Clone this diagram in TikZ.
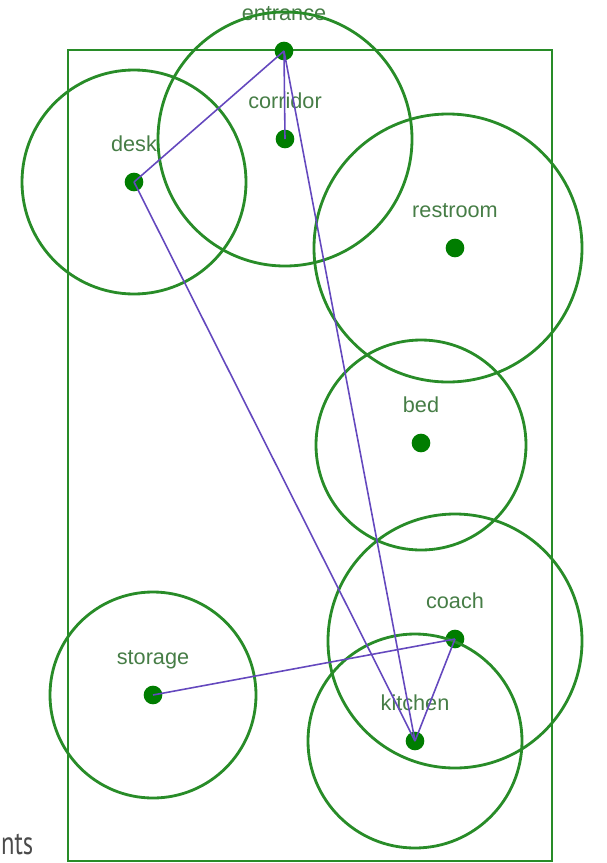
\documentclass[tikz,border=0pt]{standalone}
\usepackage{fontspec}
\setmainfont{Liberation Sans}
\newfontfamily\notefont{PT Sans}
\usepackage{tikz}
\usetikzlibrary{positioning}
\definecolor{zonegreen}{RGB}{40,140,40}
\definecolor{dotgreen}{RGB}{0,125,0}
\definecolor{lblgreen}{RGB}{70,125,70}
\definecolor{linkpurple}{RGB}{100,72,190}
\definecolor{notegray}{RGB}{75,75,75}

\begin{document}
\begin{tikzpicture}[x=0.03cm, y=-0.03cm,
  dot/.style={circle, fill=dotgreen, draw=none, minimum size=0.56cm, inner sep=0pt},
  lbl/.style={text=lblgreen, font=\fontsize{18.5}{21}\selectfont, inner sep=0pt,
    text depth=0pt, label distance=0.62cm},
  room/.style={dot, label={[lbl]above:#1}},
  zone/.style={draw=zonegreen, line width=2.4pt},
  link/.style={draw=linkpurple, line width=1.35pt}]

  \useasboundingbox (0,0) rectangle (606,863);

  % Floor outline
  \draw[draw=zonegreen, line width=2pt] (68,50) rectangle (552,861);

  % Rooms
  \node[room=entrance] (entrance) at (284,51)  {};
  \node[room=corridor] (corridor) at (285,139) {};
  \node[room=desk]     (desk)     at (134,182) {};
  \node[room=restroom] (restroom) at (455,248) {};
  \node[room=bed]      (bed)      at (421,443) {};
  \node[room=coach]    (coach)    at (455,639) {};
  \node[room=kitchen]  (kitchen)  at (415,741) {};
  \node[room=storage]  (storage)  at (153,695) {};

  % Ranges
  \draw[zone] (corridor) circle[radius=127];
  \draw[zone] (desk)     circle[radius=112];
  \draw[zone] (restroom) ++(-7,0) circle[radius=134];
  \draw[zone] (bed)      ++(0,2) circle[radius=105];
  \draw[zone] (coach)    ++(0,2) circle[radius=127];
  \draw[zone] (kitchen)  circle[radius=107];
  \draw[zone] (storage)  circle[radius=103];

  % Links
  \draw[link] (entrance.center) -- (desk.center);
  \draw[link] (entrance.center) -- (corridor.center);
  \draw[link] (entrance.center) -- (kitchen.center);
  \draw[link] (desk.center)     -- (kitchen.center);
  \draw[link] (storage.center)  -- (coach.center);
  \draw[link] (coach.center)    -- (kitchen.center);

  \node[text=notegray, font=\notefont\fontsize{28}{30}\selectfont, xscale=0.75,
    anchor=base west, inner sep=0pt] (note) at (1,854) {nts};
\end{tikzpicture}
\end{document}
